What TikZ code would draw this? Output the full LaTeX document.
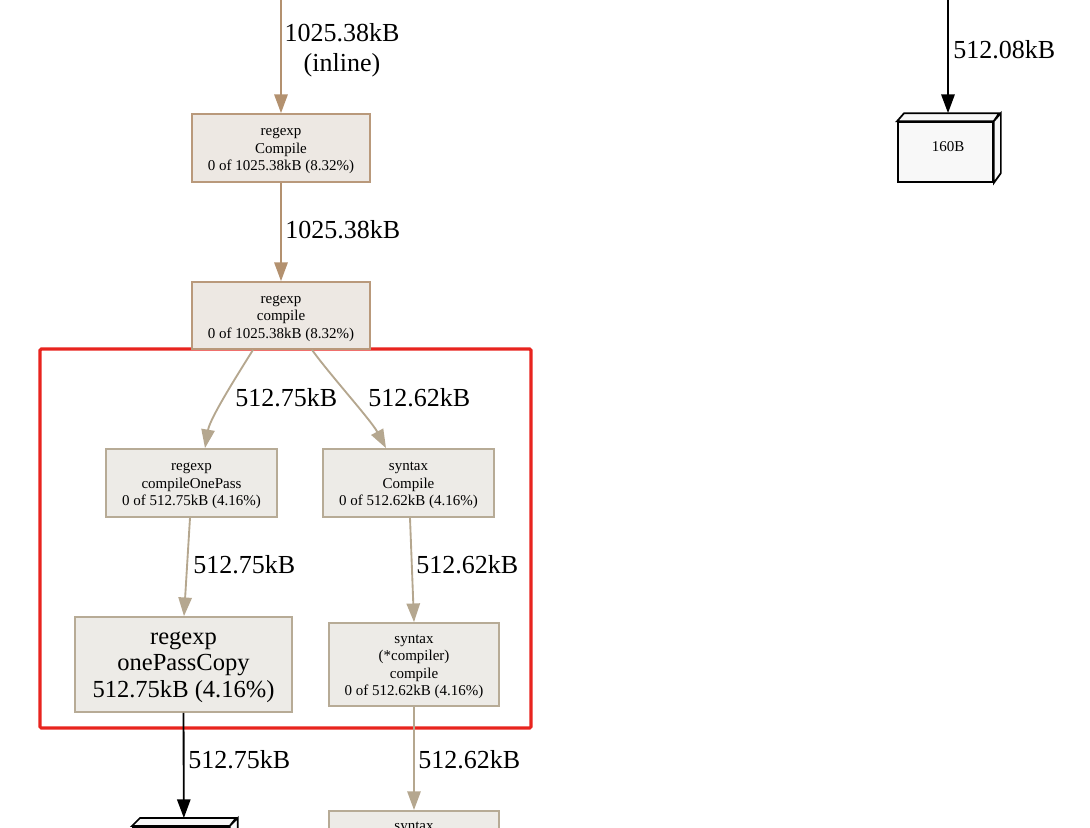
\documentclass[tikz,border=0pt]{standalone}
\usepackage{fontspec}
\setmainfont{Liberation Serif}
\usetikzlibrary{arrows.meta,calc}
\definecolor{brownedge}{HTML}{B3916F}
\definecolor{brownfill}{HTML}{EDE8E3}
\definecolor{brownline}{HTML}{B9997B}
\definecolor{tanedge}{HTML}{B5A78F}
\definecolor{tanfill}{HTML}{EDEBE7}
\definecolor{tanline}{HTML}{B7AB96}
\definecolor{redbox}{HTML}{E8241E}
\definecolor{boxfill}{HTML}{F8F8F8}
\newcommand{\toppad}[1]{\rule{0pt}{#1}}
\tikzset{
  pxw/.style={minimum width=#1*0.75pt},
  pxh/.style={minimum height=#1*0.75pt},
  smallnode/.style={rectangle, inner sep=0pt, align=center, line width=1.3pt,
    font=\fontsize{11.25}{13.1}\selectfont},
  bignode/.style={rectangle, inner sep=0pt, align=center, line width=1.3pt,
    font=\fontsize{18.4}{19.9}\selectfont},
  brownnode/.style={draw=brownline, fill=brownfill},
  tannode/.style={draw=tanline, fill=tanfill},
  elabel/.style={inner sep=0pt, align=center, font=\fontsize{19.5}{22.5}\selectfont},
  edgebase/.style={line width=1.4pt, -{Triangle[length=14pt,width=10pt]}},
  brownarrow/.style={edgebase, draw=brownedge},
  tanarrow/.style={edgebase, draw=tanedge},
  blackarrow/.style={edgebase, draw=black},
  cubebox/.style={rectangle, draw=black, fill=boxfill, line width=1.3pt, inner sep=0pt,
    font=\fontsize{11.25}{13.1}\selectfont},
}
\begin{document}
\begin{tikzpicture}[x=0.75pt,y=-0.75pt]
\useasboundingbox (0,0) rectangle (1090,828);
\clip (0,0) rectangle (1090,828);

% red cluster box
\node[draw=redbox, line width=2.3pt, rounded corners=1pt, pxw=491, pxh=379, inner sep=0pt] (cluster) at (285.5,538.5) {};

% nodes
\node[smallnode, brownnode, pxw=178, pxh=68] (Compile) at (281,148) {\toppad{10pt}regexp\\Compile\\0 of 1025.38kB (8.32\%)};
\node[smallnode, brownnode, pxw=178, pxh=67] (compile) at (281,315.5) {\toppad{10pt}regexp\\compile\\0 of 1025.38kB (8.32\%)};
\node[smallnode, tannode, pxw=171, pxh=68] (onepass) at (191.5,483) {\toppad{10pt}regexp\\compileOnePass\\0 of 512.75kB (4.16\%)};
\node[smallnode, tannode, pxw=171, pxh=68] (syntaxC) at (408.5,483) {\toppad{10pt}syntax\\Compile\\0 of 512.62kB (4.16\%)};
\node[bignode, tannode, pxw=217, pxh=95] (copy) at (183.5,664.5) {\toppad{13pt}regexp\\onePassCopy\\512.75kB (4.16\%)};
\node[smallnode, tannode, pxw=170, pxh=83] (compiler) at (414,664.5) {\toppad{10pt}syntax\\(*compiler)\\compile\\0 of 512.62kB (4.16\%)};

% bottom partial nodes
\node[smallnode, tannode, pxw=170, pxh=83, anchor=north] (nextsyn) at (414,810) {};
\node[smallnode, anchor=base] (nextsyntext) at (414,830) {syntax};
\node[cubebox, pxw=96, pxh=60, anchor=north west] (cube2) at (132,826) {};
\draw[line width=1.3pt, fill=boxfill] (cube2.north west) -- ++(8,-8) -- ++(96,0) -- (cube2.north east) -- cycle;
\draw[line width=1.3pt, fill=boxfill] (cube2.north east) -- ++(8,-8) -- ++(0,60) -- (cube2.south east) -- cycle;

% 160B box
\node[cubebox, pxw=95, pxh=60] (b160) at (945.5,152) {};
\node[cubebox, draw=none, fill=none] (b160t) at (948,147) {160B};
\draw[line width=1.3pt, fill=boxfill] (b160.north west) -- ++(7,-8) -- ++(95,0) -- (b160.north east) -- cycle;
\draw[line width=1.3pt, fill=boxfill] (b160.north east) -- ++(7,-8) -- ++(0,60) -- (b160.south east) -- cycle;

% free ends
\coordinate (topA) at (281,-2);
\coordinate (topB) at (948,-2);

% edges
\draw[brownarrow] (topA) -- (Compile.north);
\draw[brownarrow] (Compile.south) -- (compile.north);
\draw[tanarrow] ($(compile.south)+(-28,0)$) .. controls ($(compile.south)+(-43,24)$) and ($(onepass.north)+(18.5,-30)$) .. ($(onepass.north)+(13.5,0)$);
\draw[tanarrow] ($(compile.south)+(31,0)$) .. controls ($(compile.south)+(49,25)$) and ($(syntaxC.north)+(-37.5,-28)$) .. ($(syntaxC.north)+(-22.5,0)$);
\draw[tanarrow] ($(onepass.south)+(-1.5,0)$) -- ($(copy.north)+(0.5,0)$);
\draw[tanarrow] ($(syntaxC.south)+(1.5,0)$) -- (compiler.north);
\draw[blackarrow] (copy.south) -- ($(cube2.north)+(3,-8)$);
\draw[tanarrow] (compiler.south) -- (nextsyn.north);
\draw[blackarrow] (topB) -- ($(b160.north)+(2.5,-8)$);

% edge labels
\node[elabel] (lA) at (342,50) {1025.38kB\\(inline)};
\node[elabel, anchor=west] (lB) at (285,230) {1025.38kB};
\node[elabel, anchor=west] (lC) at (235,398) {512.75kB};
\node[elabel, anchor=west] (lD) at (368,398) {512.62kB};
\node[elabel, anchor=west] (lE) at (193,565) {512.75kB};
\node[elabel, anchor=west] (lF) at (416,565) {512.62kB};
\node[elabel, anchor=west] (lG) at (188,760) {512.75kB};
\node[elabel, anchor=west] (lH) at (418,760) {512.62kB};
\node[elabel, anchor=west] (lI) at (953,50) {512.08kB};
\end{tikzpicture}
\end{document}
